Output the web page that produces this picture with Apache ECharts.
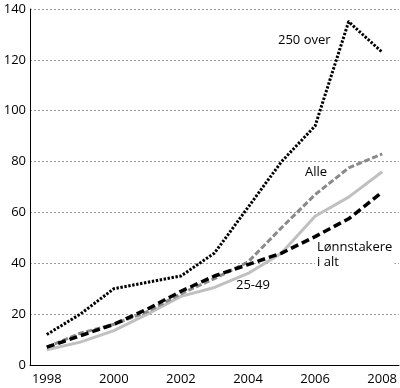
<!DOCTYPE html>
<html><head><meta charset="utf-8">
<script src="https://cdn.jsdelivr.net/npm/echarts@6/dist/echarts.min.js"></script>
<style>html,body{margin:0;padding:0;background:#fff}#c{width:400px;height:388px}</style>
</head><body><div id="c"></div>
<script>
const years = ['1998','1999','2000','2001','2002','2003','2004','2005','2006','2007','2008'];
const over250 = [12, 20, 30, 32.5, 35, 44, 62, 80, 94, 135, 123];
const alle = [7, 12.5, 16, 21, 28, 34, 40.5, 54, 67, 77.5, 83];
const s2549 = [6, 9, 13.5, 20, 27, 30.5, 36, 44, 58.5, 66, 76];
const lonn = [7, 11.5, 16, 22, 29, 35, 39.5, 44, 50.5, 57.5, 68];
const yTicks = [0, 20, 40, 60, 80, 100, 120, 140];

const chart = echarts.init(document.getElementById('c'), null, {renderer:'canvas'});
const font = '"Open Sans", "Noto Sans", sans-serif';
const mk = (name, data, color, width, dash) => ({
  name, type:'line', data, symbol:'none', animation:false,
  lineStyle:{color, width, type:dash, cap:'butt', join:'round'}
});
chart.setOption({
  animation:false,
  grid:{left:30, right:0, top:9, bottom:23, containLabel:false},
  xAxis:{type:'category', data:years, boundaryGap:true,
    axisLine:{lineStyle:{color:'#000', width:1}},
    axisTick:{inside:true, length:8, alignWithLabel:true, interval:0, lineStyle:{color:'#999', width:1.5}},
    axisLabel:{interval:1, color:'#000', fontSize:13, fontFamily:font, margin:8},
    splitLine:{show:false}},
  yAxis:{type:'value', min:yTicks[0], max:yTicks[yTicks.length-1], interval:20,
    axisLine:{show:true, lineStyle:{color:'#000', width:1}},
    axisTick:{show:false},
    axisLabel:{color:'#000', fontSize:13, fontFamily:font, margin:4},
    splitLine:{lineStyle:{color:'#999', width:1, type:[2,2]}}},
  series:[
    mk('25-49', s2549, '#c0c0c0', 3, 'solid'),
    mk('Alle', alle, '#8a8a8a', 3, [6,2.5]),
    mk('Lønnstakere i alt', lonn, '#000', 3.5, [8,4]),
    mk('250 over', over250, '#000', 3, [2.4,1.6])
  ],
  graphic:[
    {type:'text', left:276, top:34, z:100, style:{text:'250 over', font:'13px '+font, fill:'#000', backgroundColor:'#fff', padding:[0,2]}},
    {type:'text', left:304, top:166, z:100, style:{text:'Alle', font:'13px '+font, fill:'#000', backgroundColor:'#fff', padding:[0,1]}},
    {type:'text', left:315, top:240, z:100, style:{text:'Lønnstakere\ni alt', font:'13px '+font, lineHeight:15, fill:'#000', backgroundColor:'#fff', padding:[0,2]}},
    {type:'text', left:236, top:279, z:100, style:{text:'25-49', font:'13px '+font, fill:'#000'}}
  ]
});
</script></body></html>
